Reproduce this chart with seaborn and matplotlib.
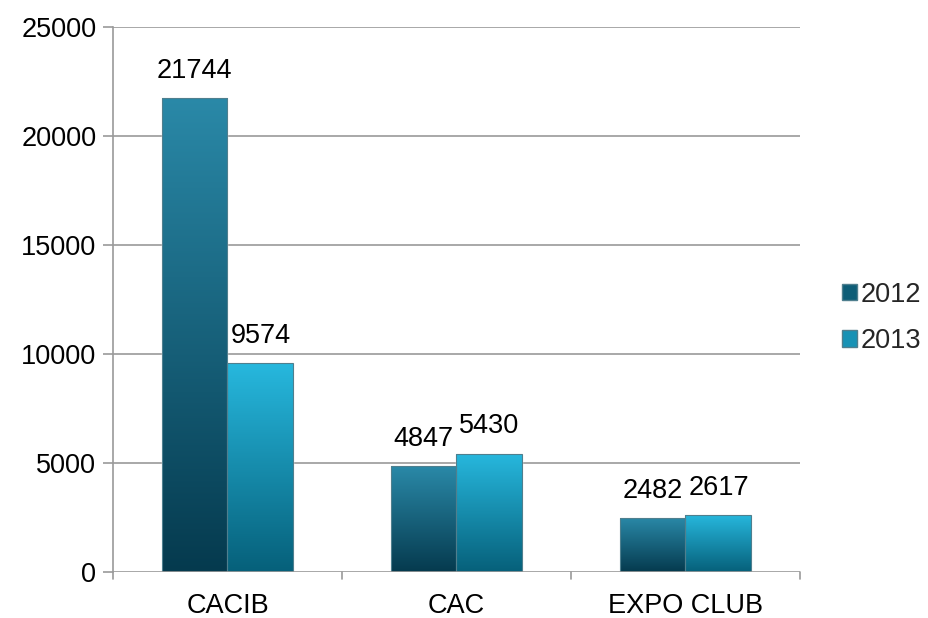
import numpy as np
import pandas as pd
import matplotlib
matplotlib.use("Agg")
import matplotlib.pyplot as plt
import seaborn as sns
from matplotlib.colors import LinearSegmentedColormap
from matplotlib.patches import Rectangle, Patch
from matplotlib.transforms import blended_transform_factory

categories = ["CACIB", "CAC", "EXPO CLUB"]
years = ["2012", "2013"]
values_2012 = [21744, 4847, 2482]
values_2013 = [9574, 5430, 2617]
yticks = [0, 5000, 10000, 15000, 20000, 25000]

df = pd.DataFrame({
    "cat": categories * 2,
    "year": [years[0]] * 3 + [years[1]] * 3,
    "val": values_2012 + values_2013,
})

sns.set_theme(style="white")
plt.rcParams["font.family"] = ["Liberation Sans", "DejaVu Sans"]
FS = 19.5

fig = plt.figure(figsize=(9.29, 6.18), dpi=100)
ax = fig.add_axes([113 / 929, 1 - 572 / 618, (800 - 113) / 929, (572 - 27) / 618])

base_cols = {"2012": "#0b5f78", "2013": "#1a9cc0"}
sns.barplot(data=df, x="cat", y="val", hue="year", palette=base_cols,
            width=0.576, ax=ax, legend=False, zorder=3, saturation=1)

grad = {
    "2012": ("#053a4e", "#2a89a8"),
    "2013": ("#06607a", "#27b8de"),
}
bars = [p for p in ax.patches if isinstance(p, Rectangle) and p.get_height() > 0]
for i, p in enumerate(bars):
    yr = years[i // 3]
    cmap = LinearSegmentedColormap.from_list("g" + yr, list(grad[yr]))
    x0, w, h = p.get_x(), p.get_width(), p.get_height()
    img = ax.imshow(np.linspace(0, 1, 256).reshape(-1, 1), cmap=cmap, origin="lower",
                    extent=[x0, x0 + w, 0, h], aspect="auto", zorder=4)
    img.set_clip_path(p)
    ax.add_patch(Rectangle((x0, 0), w, h, fill=False, edgecolor="#4f7f8e", lw=0.8, zorder=5))
    ax.text(x0 + w / 2, h + 650, f"{int(h)}", ha="center", va="bottom",
            fontsize=FS, color="black", zorder=6)

ax.set_xlim(-0.5, 2.5)
ax.set_ylim(0, 25000)
ax.set_yticks(yticks)
ax.set_yticklabels([str(t) for t in yticks], fontsize=FS, color="black")
ax.grid(False)
for t in yticks[1:]:
    ax.axhline(t, color="#9a9a9a", lw=1.2, zorder=1)
for s in ["top", "right", "bottom"]:
    ax.spines[s].set_visible(False)
ax.spines["left"].set_color("#9a9a9a")
ax.spines["left"].set_linewidth(1.2)
ax.axhline(0, color="#9a9a9a", lw=1.2, zorder=6)
ax.tick_params(axis="y", left=True, length=7, width=1.2, color="#9a9a9a", pad=5)
ax.set_xticks([0, 1, 2])
ax.set_xticklabels(categories, fontsize=FS, color="black")
ax.tick_params(axis="x", bottom=False, pad=9)
tr = blended_transform_factory(ax.transData, ax.transAxes)
for xb in [-0.5, 0.5, 1.5, 2.5]:
    ax.plot([xb, xb], [0, -0.013], color="#9a9a9a", lw=1.2, clip_on=False, transform=tr)
ax.set_xlabel("")
ax.set_ylabel("")

hnd = [Patch(facecolor="#0e5d77", edgecolor="#4f7f8e"), Patch(facecolor="#1792b5", edgecolor="#4f7f8e")]
fig.legend(hnd, years, loc="center left", bbox_to_anchor=(842 / 929, 1 - 318 / 618),
           frameon=False, fontsize=FS, handlelength=0.55, handleheight=0.55,
           handletextpad=0.15, labelspacing=0.75, borderaxespad=0, borderpad=0)

fig.savefig("out.png", dpi=100)
